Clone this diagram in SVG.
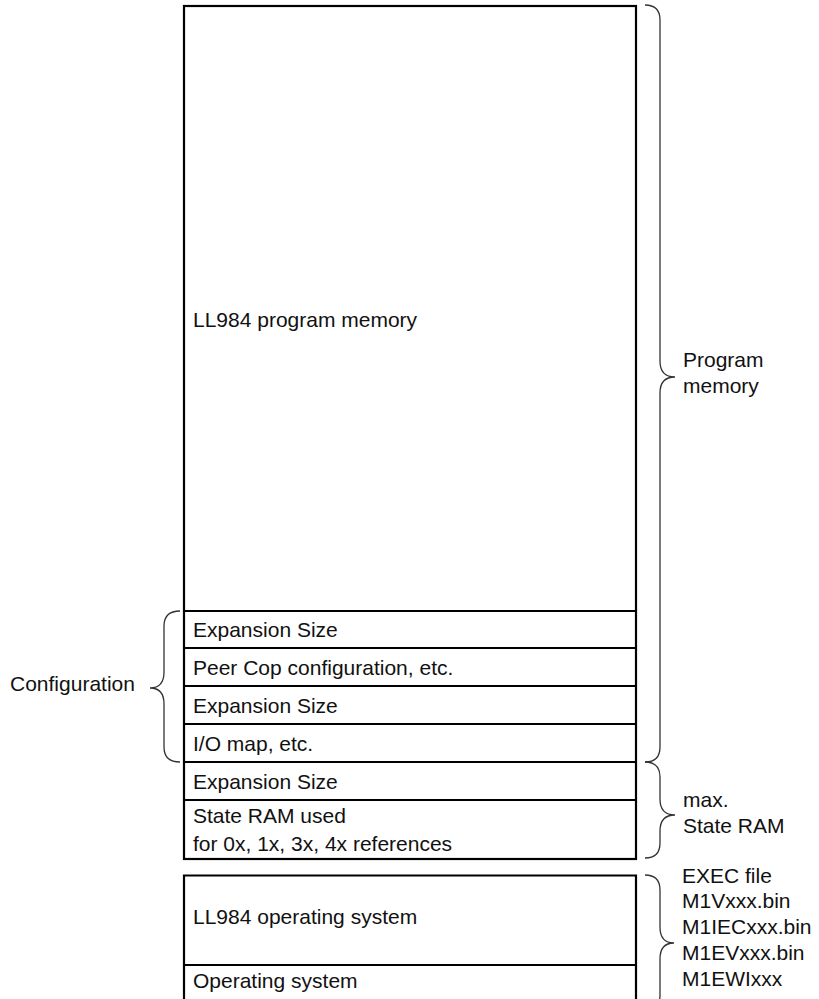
<svg xmlns="http://www.w3.org/2000/svg" width="819" height="999" viewBox="0 0 819 999">
<style>
.box{fill:none;stroke:#000;stroke-width:2.2}
.div{stroke:#000;stroke-width:2}
.brace{fill:none;stroke:#333;stroke-width:1.3}
text{font-family:"Liberation Sans",Arial,Helvetica,sans-serif;font-size:21px;fill:#111}
</style>
<rect x="0" y="0" width="819" height="999" fill="#fff"/>
<g id="memory-map">
<rect class="box" x="184" y="6" width="452" height="853"/>
</g>
<g id="program-memory-area">
<text x="193" y="327">LL984 program memory</text>
</g>
<g id="row-expansion-1">
<line class="div" x1="184" y1="611" x2="636" y2="611"/>
<text x="193" y="637">Expansion Size</text>
</g>
<g id="row-peer-cop">
<line class="div" x1="184" y1="648" x2="636" y2="648"/>
<text x="193" y="675">Peer Cop configuration, etc.</text>
</g>
<g id="row-expansion-2">
<line class="div" x1="184" y1="686" x2="636" y2="686"/>
<text x="193" y="713">Expansion Size</text>
</g>
<g id="row-io-map">
<line class="div" x1="184" y1="724" x2="636" y2="724"/>
<text x="193" y="751">I/O map, etc.</text>
</g>
<g id="row-expansion-3">
<line class="div" x1="184" y1="762" x2="636" y2="762"/>
<text x="193" y="789">Expansion Size</text>
</g>
<g id="row-state-ram">
<line class="div" x1="184" y1="800" x2="636" y2="800"/>
<text x="193" y="823">State RAM used</text>
<text x="193" y="851">for 0x, 1x, 3x, 4x references</text>
</g>
<g id="os-box">
<path class="box" d="M184,999 V875.5 H636 V999"/>
<text x="193" y="924">LL984 operating system</text>
</g>
<g id="row-os">
<line class="div" x1="184" y1="965" x2="636" y2="965"/>
<text x="193" y="988">Operating system</text>
</g>
<g id="connectors">
<path class="brace" d="M645,5 Q660,5 660,20 L660,361 Q660,377 675,377 Q660,377 660,393 L660,747 Q660,762 645,762"/>
<path class="brace" d="M645,762 Q660,762 660,777 L660,799 Q660,815 675,815 Q660,815 660,831 L660,843 Q660,858 645,858"/>
<path class="brace" d="M645,875 Q660,875 660,890 L660,927 Q660,943 674,943 Q660,943 660,959 L660,995 Q660,1010 645,1010"/>
<path class="brace" d="M180,611 Q164,611 164,626 L164,672 Q164,688 150,688 Q164,688 164,704 L164,747 Q164,762 180,762"/>
</g>
<g id="labels">
<text x="683" y="367">Program</text>
<text x="683" y="393">memory</text>
<text x="10" y="691">Configuration</text>
<text x="683" y="807">max.</text>
<text x="683" y="833">State RAM</text>
<text x="682" y="883">EXEC file</text>
<text x="682" y="908">M1Vxxx.bin</text>
<text x="682" y="934">M1IECxxx.bin</text>
<text x="682" y="960">M1EVxxx.bin</text>
<text x="682" y="986">M1EWIxxx</text>
</g>
</svg>
